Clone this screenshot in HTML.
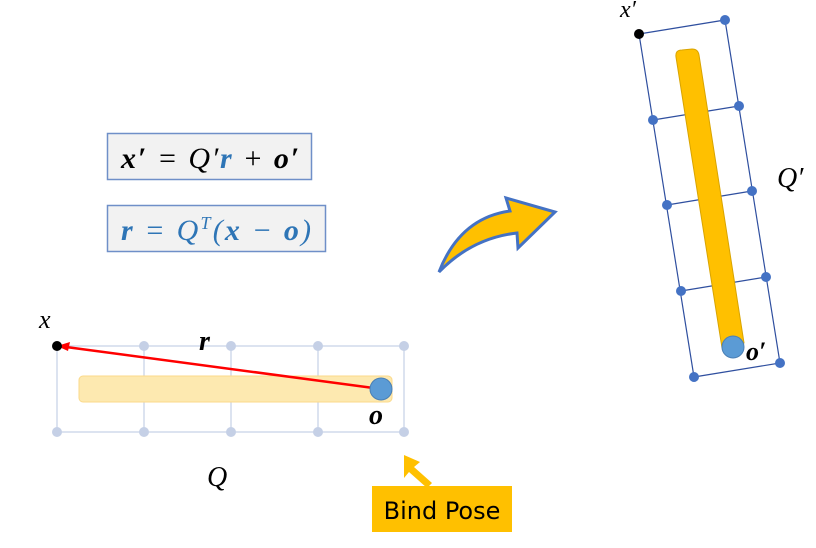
<!DOCTYPE html>
<html><head><meta charset="utf-8"><style>
body{margin:0;background:#fff;width:816px;height:543px;overflow:hidden}
svg text{font-family:"Liberation Serif",serif}
</style></head><body>
<svg width="816" height="543" viewBox="0 0 816 543">
<g stroke="#c5d0e6" stroke-width="1.2" fill="none">
<rect x="57" y="346" width="347" height="86"/>
<line x1="144" y1="346" x2="144" y2="432"/><line x1="231" y1="346" x2="231" y2="432"/><line x1="318" y1="346" x2="318" y2="432"/>
</g>
<g fill="#c5d0e6">
<circle cx="144" cy="346" r="5"/><circle cx="231" cy="346" r="5"/><circle cx="318" cy="346" r="5"/><circle cx="404" cy="346" r="5"/>
<circle cx="57" cy="432" r="5"/><circle cx="144" cy="432" r="5"/><circle cx="231" cy="432" r="5"/><circle cx="318" cy="432" r="5"/><circle cx="404" cy="432" r="5"/>
</g>
<rect x="79" y="376" width="313" height="26" rx="4" fill="#fde9b0" stroke="#fbd98a"/>
<line x1="381" y1="389" x2="66" y2="347" stroke="#f00" stroke-width="2.5"/>
<polygon points="57,346 70,342 68,351" fill="#f00"/>
<circle cx="381" cy="389" r="11" fill="#5b9bd5" stroke="#4a7fb5"/>
<circle cx="57" cy="346" r="5" fill="#000"/>
<text x="39" y="328" font-size="26" font-style="italic">x</text>
<text x="199" y="350" font-size="28" font-style="italic" font-weight="bold">r</text>
<text x="369" y="424" font-size="28" font-style="italic" font-weight="bold">o</text>
<text x="207" y="486" font-size="28" font-style="italic">Q</text>
<rect x="107.5" y="133.5" width="204" height="46" fill="#f2f2f2" stroke="#6f8fc8" stroke-width="1.5"/>
<text x="121" y="168" font-size="30" font-style="italic" textLength="178" lengthAdjust="spacing"><tspan font-weight="bold">x′</tspan> = Q′<tspan font-weight="bold" fill="#2e75b6">r</tspan> + <tspan font-weight="bold">o′</tspan></text>
<rect x="107.5" y="205.5" width="218" height="46" fill="#f2f2f2" stroke="#6f8fc8" stroke-width="1.5"/>
<text x="121" y="240" font-size="30" font-style="italic" fill="#2e75b6" textLength="190" lengthAdjust="spacing"><tspan font-weight="bold">r</tspan> = Q<tspan font-size="18" dy="-11">T</tspan><tspan dy="11">(</tspan><tspan font-weight="bold">x</tspan> − <tspan font-weight="bold">o</tspan>)</text>
<path d="M439,272 Q460,218 510,211 L506,198 L555,212 L518,248 L517,233 Q472,238 439,272 Z" fill="#ffc000" stroke="#4472c4" stroke-width="3" stroke-linejoin="miter"/>
<g stroke="#2f4f9f" stroke-width="1.2" fill="none">
<polygon points="639,34 725,20 780,363 694,377"/>
<line x1="653" y1="120" x2="739" y2="106"/><line x1="667" y1="205" x2="752" y2="191"/><line x1="681" y1="291" x2="766" y2="277"/>
</g>
<path d="M676,57 Q675,50 682,50 L692,49 Q698,49 699,55 L744,343 Q735,352 722,348 Z" fill="#ffc000" stroke="#d9a400"/>
<g fill="#4472c4">
<circle cx="725" cy="20" r="5"/><circle cx="653" cy="120" r="5"/><circle cx="739" cy="106" r="5"/><circle cx="667" cy="205" r="5"/><circle cx="752" cy="191" r="5"/>
<circle cx="681" cy="291" r="5"/><circle cx="766" cy="277" r="5"/><circle cx="694" cy="377" r="5"/><circle cx="780" cy="363" r="5"/>
</g>
<circle cx="639" cy="34" r="5" fill="#000"/>
<circle cx="733" cy="347" r="11" fill="#5b9bd5" stroke="#4a7fb5"/>
<text x="620" y="17" font-size="24" font-style="italic">x′</text>
<text x="777" y="187" font-size="28" font-style="italic">Q′</text>
<text x="746" y="360" font-size="26" font-style="italic" font-weight="bold">o′</text>
<path d="M404,455 L420,462 L414,467 L432,483 L427,488 L409,472 L404,478 Z" fill="#ffc000"/>
<rect x="372" y="486" width="140" height="46" fill="#ffc000"/>
<text x="442" y="519" font-size="24" text-anchor="middle" style="font-family:'DejaVu Sans','Liberation Sans',sans-serif">Bind Pose</text>
</svg>
</body></html>
